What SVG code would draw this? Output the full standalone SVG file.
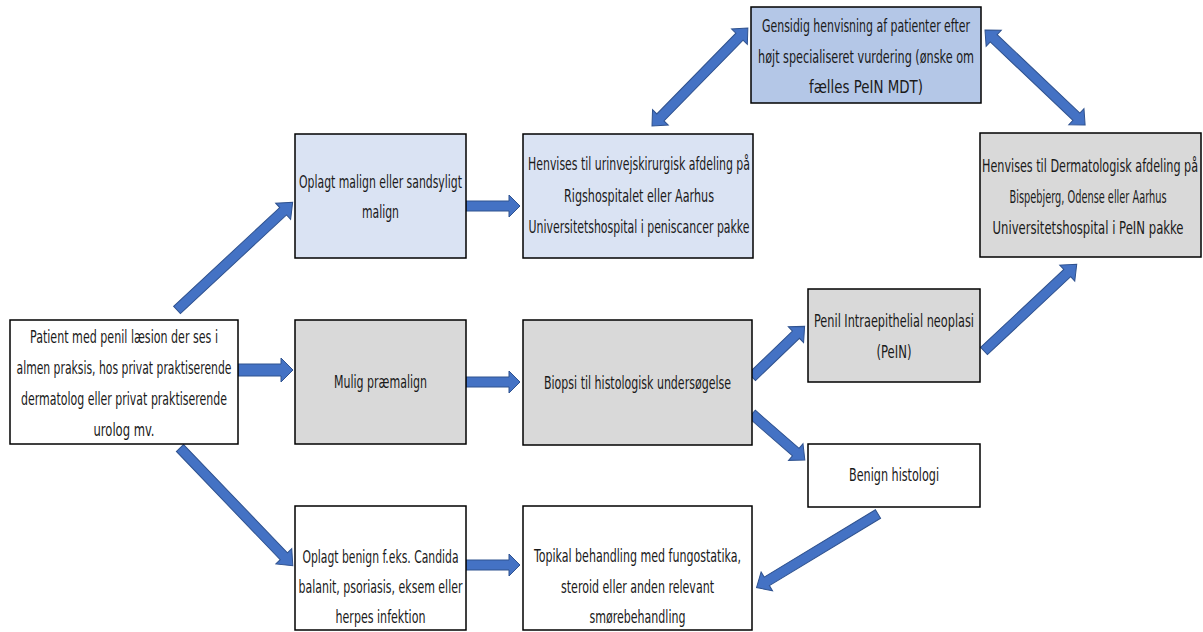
<svg xmlns="http://www.w3.org/2000/svg" width="1203" height="632" viewBox="0 0 1203 632">
<defs>
<style>
.box{stroke:#000;stroke-width:1.5}
.w{fill:#fff}.lb{fill:#dae3f3}.mb{fill:#b4c7e7}.g{fill:#d9d9d9}
text{font-family:"DejaVu Sans Condensed","Liberation Sans",sans-serif;font-size:17px;fill:#1a1a1a;text-anchor:middle}
.arr{fill:#4472c4;stroke:#2f528f;stroke-width:1}
</style>
</defs>
<rect width="1203" height="632" fill="#fff"/>
<g id="connectors">
<polygon class="arr" transform="translate(177,310) rotate(-42.95)" points="0,-5 145,-5 145,-11 158,0 145,11 145,5 0,5"/>
<polygon class="arr" transform="translate(180,448) rotate(46.2)" points="0,-5 150,-5 150,-11 163,0 150,11 150,5 0,5"/>
<polygon class="arr" transform="translate(238,370)" points="0,-6 43,-6 43,-12 55,0 43,12 43,6 0,6"/>
<polygon class="arr" transform="translate(466,206)" points="0,-5 43,-5 43,-11 54,0 43,11 43,5 0,5"/>
<polygon class="arr" transform="translate(466,382)" points="0,-5 43,-5 43,-11 54,0 43,11 43,5 0,5"/>
<polygon class="arr" transform="translate(466,565)" points="0,-5 43,-5 43,-11 54,0 43,11 43,5 0,5"/>
<polygon class="arr" transform="translate(752,377) rotate(-43.9)" points="0,-5 61,-5 61,-11 73,0 61,11 61,5 0,5"/>
<polygon class="arr" transform="translate(752,414) rotate(41)" points="0,-5 58,-5 58,-11 70,0 58,11 58,5 0,5"/>
<polygon class="arr" transform="translate(984,351) rotate(-43.1)" points="0,-5 114,-5 114,-11 127,0 114,11 114,5 0,5"/>
<polygon class="arr" transform="translate(878,514) rotate(148.8)" points="0,-5 130,-5 130,-11 142,0 130,11 130,5 0,5"/>
<polygon class="arr" transform="translate(652,126) rotate(-45.6)" points="0,0 12,-11 12,-5 125,-5 125,-11 137,0 125,11 125,5 12,5 12,11"/>
<polygon class="arr" transform="translate(985,30) rotate(43.5)" points="0,0 12,-11 12,-5 126,-5 126,-11 138,0 126,11 126,5 12,5 12,11"/>
</g>
<g id="n-patient">
<rect class="box w" x="10" y="320" width="228" height="124"/>
<text x="124" y="343" textLength="188" lengthAdjust="spacingAndGlyphs">Patient med penil læsion der ses i</text>
<text x="124" y="374" textLength="215" lengthAdjust="spacingAndGlyphs">almen praksis, hos privat praktiserende</text>
<text x="124" y="405" textLength="206" lengthAdjust="spacingAndGlyphs">dermatolog eller privat praktiserende</text>
<text x="124" y="436" textLength="61" lengthAdjust="spacingAndGlyphs">urolog mv.</text>
</g>
<g id="n-oplagt-malign">
<rect class="box lb" x="295" y="134" width="171" height="124"/>
<text x="380.5" y="188" textLength="163" lengthAdjust="spacingAndGlyphs">Oplagt malign eller sandsyligt</text>
<text x="380.5" y="218" textLength="37" lengthAdjust="spacingAndGlyphs">malign</text>
</g>
<g id="n-urinvej">
<rect class="box lb" x="523" y="134" width="230" height="124"/>
<text x="639" y="170" textLength="222" lengthAdjust="spacingAndGlyphs">Henvises til urinvejskirurgisk afdeling på</text>
<text x="639" y="202" textLength="150" lengthAdjust="spacingAndGlyphs">Rigshospitalet eller Aarhus</text>
<text x="639" y="233" textLength="221" lengthAdjust="spacingAndGlyphs">Universitetshospital i peniscancer pakke</text>
</g>
<g id="n-gensidig">
<rect class="box mb" x="751" y="7" width="230" height="96"/>
<text x="866" y="32" textLength="208" lengthAdjust="spacingAndGlyphs">Gensidig henvisning af patienter efter</text>
<text x="866" y="63" textLength="216" lengthAdjust="spacingAndGlyphs">højt specialiseret vurdering (ønske om</text>
<text x="866" y="93" textLength="114" lengthAdjust="spacingAndGlyphs">fælles PeIN MDT)</text>
</g>
<g id="n-derma">
<rect class="box g" x="980" y="133" width="221" height="124"/>
<text x="1090" y="172" textLength="216" lengthAdjust="spacingAndGlyphs">Henvises til Dermatologisk afdeling på</text>
<text x="1088" y="203" textLength="157" lengthAdjust="spacingAndGlyphs">Bispebjerg, Odense eller Aarhus</text>
<text x="1088" y="234" textLength="191" lengthAdjust="spacingAndGlyphs">Universitetshospital i PeIN pakke</text>
</g>
<g id="n-mulig">
<rect class="box g" x="295" y="320" width="171" height="124"/>
<text x="380.5" y="388" textLength="93" lengthAdjust="spacingAndGlyphs">Mulig præmalign</text>
</g>
<g id="n-biopsi">
<rect class="box g" x="523" y="320" width="229" height="125"/>
<text x="637.5" y="389" textLength="187" lengthAdjust="spacingAndGlyphs">Biopsi til histologisk undersøgelse</text>
</g>
<g id="n-pein">
<rect class="box g" x="808" y="289" width="172" height="93"/>
<text x="894" y="327" textLength="160" lengthAdjust="spacingAndGlyphs">Penil Intraepithelial neoplasi</text>
<text x="894" y="358" textLength="35" lengthAdjust="spacingAndGlyphs">(PeIN)</text>
</g>
<g id="n-benign-hist">
<rect class="box w" x="808" y="444" width="172" height="63"/>
<text x="894" y="481" textLength="90" lengthAdjust="spacingAndGlyphs">Benign histologi</text>
</g>
<g id="n-oplagt-benign">
<rect class="box w" x="295" y="506" width="171" height="124"/>
<text x="380.5" y="563" textLength="156" lengthAdjust="spacingAndGlyphs">Oplagt benign f.eks. Candida</text>
<text x="380.5" y="593" textLength="164" lengthAdjust="spacingAndGlyphs">balanit, psoriasis, eksem eller</text>
<text x="380.5" y="623" textLength="90" lengthAdjust="spacingAndGlyphs">herpes infektion</text>
</g>
<g id="n-topikal">
<rect class="box w" x="523" y="506" width="229" height="124"/>
<text x="637.5" y="562" textLength="207" lengthAdjust="spacingAndGlyphs">Topikal behandling med fungostatika,</text>
<text x="637.5" y="593" textLength="153" lengthAdjust="spacingAndGlyphs">steroid eller anden relevant</text>
<text x="637.5" y="623" textLength="96" lengthAdjust="spacingAndGlyphs">smørebehandling</text>
</g>
</svg>
